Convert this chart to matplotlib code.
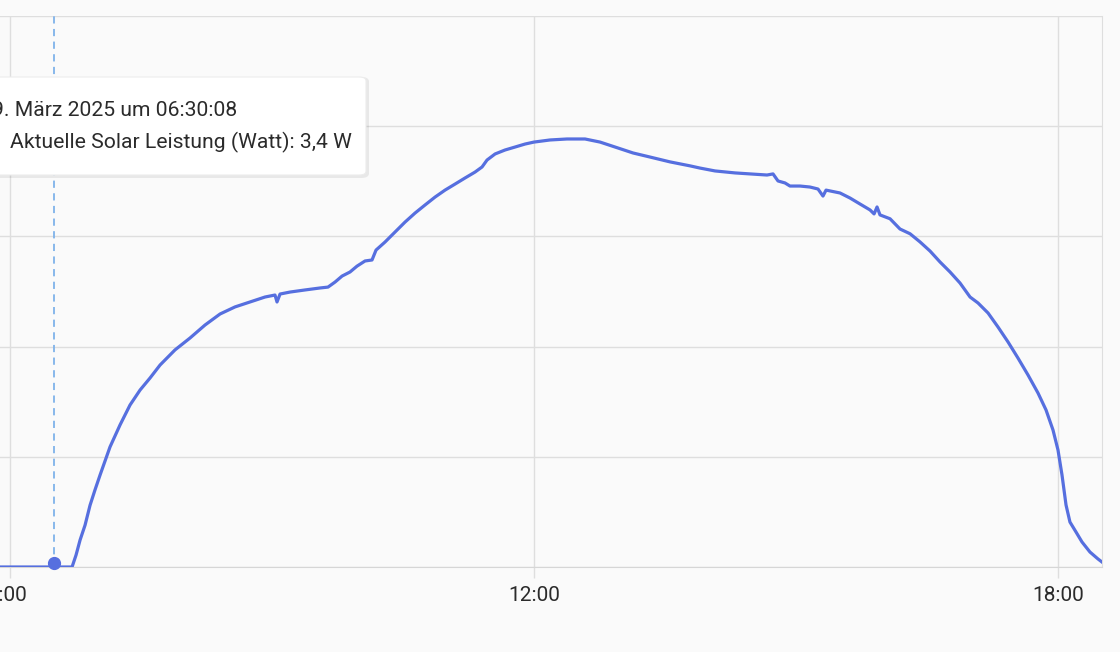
import matplotlib.pyplot as plt
from matplotlib.patches import FancyBboxPatch
from matplotlib.ticker import FixedLocator, FuncFormatter
from matplotlib.transforms import ScaledTranslation

plt.rcParams['font.family'] = ['Roboto', 'DejaVu Sans']

# Zeitpunkte (Stunden) und Solarleistung (Watt)
hours = [5.885, 6.710, 6.756, 6.802, 6.859, 6.916, 6.973, 7.031, 7.145, 7.260,
         7.374, 7.489, 7.603, 7.718, 7.889, 8.061, 8.233, 8.405, 8.576, 8.748,
         8.920, 9.034, 9.057, 9.092, 9.206, 9.378, 9.550, 9.641, 9.722, 9.802,
         9.893, 9.973, 10.065, 10.145, 10.191, 10.294, 10.409, 10.523, 10.638, 10.752,
         10.867, 10.981, 11.096, 11.210, 11.325, 11.405, 11.462, 11.554, 11.668, 11.783,
         11.897, 12.000, 12.183, 12.378, 12.584, 12.756, 12.928, 13.134, 13.329, 13.558,
         13.787, 13.901, 14.073, 14.302, 14.474, 14.668, 14.737, 14.794, 14.874, 14.931,
         15.046, 15.160, 15.252, 15.309, 15.344, 15.504, 15.619, 15.733, 15.848, 15.894,
         15.928, 15.962, 16.077, 16.191, 16.306, 16.420, 16.535, 16.649, 16.764, 16.878,
         16.993, 17.084, 17.199, 17.313, 17.428, 17.542, 17.657, 17.771, 17.863, 17.943,
         18.000, 18.046, 18.092, 18.137, 18.206, 18.275, 18.366, 18.458, 18.504]
watt = [0, 0, 10.9, 24.5, 38, 56, 70, 83.5, 109, 129,
        147, 160.6, 171.5, 183.3, 197, 207.8, 219.6, 229.6, 236, 240.5,
        245, 246.8, 240.5, 247.7, 249.5, 251.4, 253.2, 254, 258.6, 264,
        267.7, 273, 277.7, 278.6, 287.6, 294.9, 304, 313, 321.2, 328.5,
        335.7, 342, 347.5, 353, 358.4, 363, 369.3, 374.8, 378.4, 381.1,
        383.8, 385.6, 387.5, 388.4, 388.4, 385.6, 381.1, 375.7, 372, 367.6,
        364, 362, 359.4, 357.6, 356.7, 355.7, 356.7, 350.3, 348.5, 345.7,
        345.7, 344.8, 343, 336.6, 342, 339.4, 334.8, 329.4, 324, 320.4,
        326.7, 319.5, 316, 306.7, 302.4, 295, 286.7, 276.8, 267.7, 257.7,
        245, 239.6, 230.5, 217.8, 204.2, 189.6, 174.2, 157.9, 142.5, 124.3,
        106.2, 83.5, 56.3, 40.8, 31.8, 22.7, 13.6, 7.3, 4.5]

tick_hours = [6, 12, 18]
y_ticks = [0, 100, 200, 300, 400, 500]

cursor_hour = 6.5022
cursor_watt = 3.4
tooltip_title = '9. März 2025 um 06:30:08'
tooltip_body = 'Aktuelle Solar Leistung (Watt): 3,4 W'

W, H = 1120, 652
fig = plt.figure(figsize=(W / 100, H / 100), dpi=100, facecolor='#fafafa')
ax = fig.add_axes([0, 85 / H, 1102 / W, 551 / H], facecolor='#fafafa')

line_col = '#566fdf'
grid_col = '#dedede'

ax.plot(hours, watt, color=line_col, lw=2.3, solid_joinstyle='round', zorder=3)
ax.axvline(cursor_hour, color='#7fb2ea', lw=1.3, ls=(0, (4, 3)), zorder=2)
ax.plot([cursor_hour], [cursor_watt], 'o', color=line_col, ms=8.5, zorder=4, clip_on=False)

ax.set_xlim(5.885, 18.504)
ax.set_ylim(0, 500)
ax.xaxis.set_major_locator(FixedLocator(tick_hours))
ax.xaxis.set_major_formatter(FuncFormatter(lambda v, p: '%02d:00' % int(v)))
ax.set_yticks(y_ticks)
ax.set_yticklabels([])
ax.tick_params(axis='y', length=0)
ax.tick_params(axis='x', length=8, width=1, color=grid_col, labelsize=15,
               labelcolor='#2b2b2b', pad=6)
ax.grid(True, color=grid_col, lw=1)
ax.set_axisbelow(True)
for s in ['left', 'top']:
    ax.spines[s].set_visible(False)
ax.spines['bottom'].set_color('#d6d6d6')
ax.spines['right'].set_color(grid_col)

# erstes Label sitzt im Original etwas weiter links
first = ax.get_xticklabels()[0]
first.set_transform(first.get_transform() + ScaledTranslation(-8 / 100, 0, fig.dpi_scale_trans))

# Tooltip
def fx(px):
    return px / W

def fy(py):
    return 1 - py / H

shadow = FancyBboxPatch((fx(-20), fy(178)), fx(389), 101 / H,
                        boxstyle='round,pad=0,rounding_size=0.007',
                        transform=fig.transFigure, fc='#000000', ec='none',
                        alpha=0.07, zorder=5)
box = FancyBboxPatch((fx(-20), fy(175)), fx(386), 98 / H,
                     boxstyle='round,pad=0,rounding_size=0.006',
                     transform=fig.transFigure, fc='white', ec='#ececec',
                     lw=0.8, zorder=6)
fig.patches.extend([shadow, box])
fig.text(fx(-8), fy(111), tooltip_title, fontsize=15.2, color='#2b2b2b',
         va='center', ha='left', zorder=7)
fig.text(fx(10), fy(142), tooltip_body, fontsize=15.2, color='#2b2b2b',
         va='center', ha='left', zorder=7)

fig.savefig('out.png', dpi=100, facecolor='#fafafa')
